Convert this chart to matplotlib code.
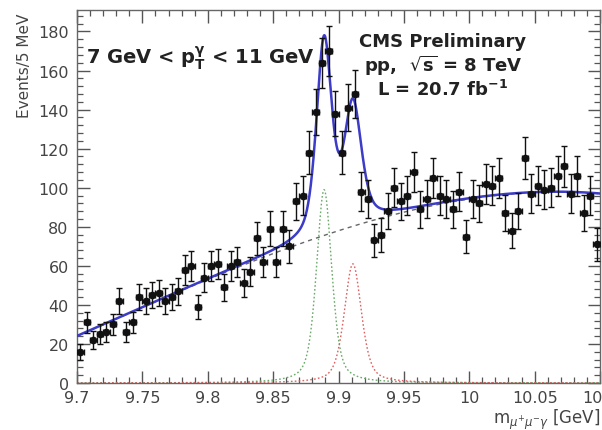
import numpy as np
import matplotlib
matplotlib.use("Agg")
import matplotlib.pyplot as plt
from matplotlib.ticker import MultipleLocator, FuncFormatter

# ---- data ----
bin_lo = 9.70
bin_width = 0.005
counts = [16, 31, 22, 25, 26, 30, 42, 26, 31, 44,
          42, 45, 46, 42, 44, 47, 58, 60, 39, 54,
          60, 61, 49, 60, 62, 51, 57, 74, 62, 79,
          62, 79, 70, 93, 96, 118, 139, 164, 170, 138,
          118, 141, 148, 98, 94, 73, 76, 88, 100, 93,
          96, 108, 89, 94, 105, 96, 94, 89, 98, 75,
          94, 92, 102, 101, 105, 87, 78, 88, 115, 97,
          101, 99, 100, 106, 111, 97, 106, 87, 96, 71]

# fit model parameters
bkg_coef = [24.0, 294.0, 38.0, -793.0]      # polynomial in (m - 9.7)
peak1 = dict(mean=9.889, amp=99.0, fwhm=0.0138, eta=0.5)   # green component
peak2 = dict(mean=9.911, amp=61.0, fwhm=0.0155, eta=0.5)   # red component

x_range = (9.70, 10.10)
y_range = (0, 191)

text_bin = "7 GeV < $\\mathbf{p}_{\\mathbf{T}}^{\\mathbf{\\gamma}}$ < 11 GeV"
text_cms = ["CMS Preliminary", "pp,  $\\sqrt{\\mathbf{s}}$ = 8 TeV",
            "L = 20.7 fb$^{\\mathbf{-1}}$"]
ylabel = "Events/5 MeV"
xlabel = "m$_{\\mu^{+}\\mu^{-}\\gamma}$ [GeV]"


def bkg(m):
    t = m - 9.7
    return sum(c * t ** i for i, c in enumerate(bkg_coef))


def pvoigt(m, p):
    sig = p["fwhm"] / 2.3548
    gam = p["fwhm"] / 2.0
    d = m - p["mean"]
    g = np.exp(-0.5 * (d / sig) ** 2)
    l = 1.0 / (1.0 + (d / gam) ** 2)
    return p["amp"] * (p["eta"] * l + (1 - p["eta"]) * g)


plt.rcParams['font.family'] = ['DejaVu Sans']
plt.rcParams['mathtext.fontset'] = 'dejavusans'

fig = plt.figure(figsize=(6.02, 4.31), dpi=100)
ax = fig.add_axes([77 / 602, 47 / 431, 523 / 602, 373 / 431])

n = np.array(counts, dtype=float)
centers = bin_lo + bin_width * (np.arange(len(counts)) + 0.5)
err = np.sqrt(n)

m = np.linspace(x_range[0], x_range[1], 1200)
b = bkg(m)
s1 = pvoigt(m, peak1)
s2 = pvoigt(m, peak2)

ax.plot(m, s1, color="#6aaa6a", lw=1.0, ls=(0, (1.2, 1.6)), zorder=2)
ax.plot(m, s2, color="#e06060", lw=1.0, ls=(0, (1.2, 1.6)), zorder=2)
ax.plot(m, b, color="#666666", lw=1.0, ls=(0, (3, 3)), zorder=2)
ax.plot(m, b + s1 + s2, color="#3c3cc8", lw=1.8, zorder=3)

ax.errorbar(centers, n, yerr=err, xerr=bin_width / 2, fmt="o", color="#111111",
            ms=4.5, elinewidth=1.0, capsize=2.0, capthick=1.0, zorder=4)

ax.set_xlim(*x_range)
ax.set_ylim(*y_range)

ax.xaxis.set_major_locator(MultipleLocator(0.05))
ax.xaxis.set_minor_locator(MultipleLocator(0.01))
ax.yaxis.set_major_locator(MultipleLocator(20))
ax.yaxis.set_minor_locator(MultipleLocator(4))
ax.xaxis.set_major_formatter(FuncFormatter(lambda v, p: "%g" % round(v, 3)))
ax.tick_params(which="both", direction="in", top=True, right=True,
               colors="#555555", labelcolor="#444444")
ax.tick_params(which="major", length=9, width=1.0, labelsize=11.5, pad=6)
ax.tick_params(axis="x", which="major", pad=5)
ax.tick_params(which="minor", length=4.5, width=0.9)
for sp in ax.spines.values():
    sp.set_color("#666666")
    sp.set_linewidth(1.0)

fig.text(86 / 602, 1 - 58 / 431, text_bin, fontsize=14, fontweight="bold",
         ha="left", va="center", color="#222222")
for i, t in enumerate(text_cms):
    fig.text(443 / 602, 1 - (42 + 24 * i) / 431, t, fontsize=13, fontweight="bold",
             ha="center", va="center", color="#222222")

fig.text(25 / 602, 1 - 14 / 431, ylabel, rotation=90, fontsize=11,
         ha="center", va="top", color="#444444")
fig.text(600 / 602, 1 - 408 / 431, xlabel, fontsize=12,
         ha="right", va="top", color="#444444")

fig.savefig("out.png", dpi=100)
